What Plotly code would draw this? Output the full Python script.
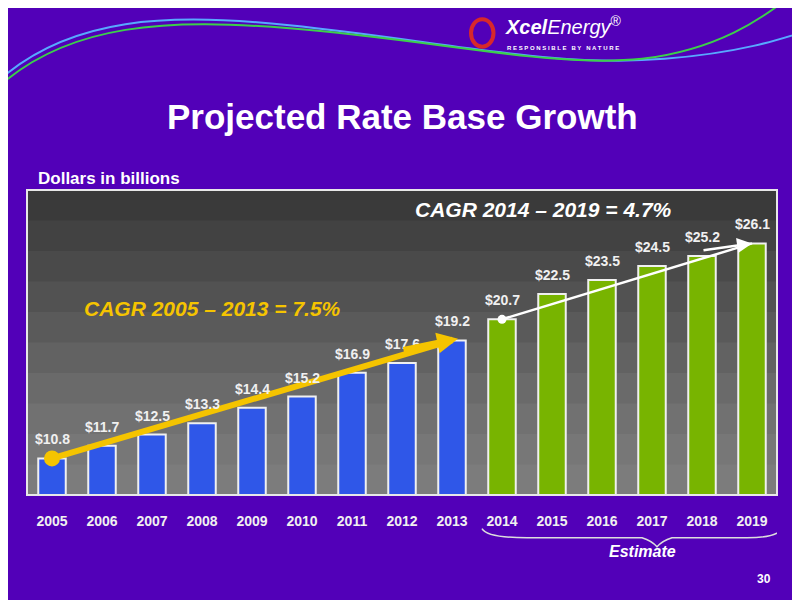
import plotly.graph_objects as go

years = list(range(2005, 2020))
rate_base = [10.8, 11.7, 12.5, 13.3, 14.4, 15.2, 16.9, 17.6, 19.2,
             20.7, 22.5, 23.5, 24.5, 25.2, 26.1]
labels = ["$%.1f" % v for v in rate_base]
hist_years = years[:9]
est_years = years[9:]

fig = go.Figure()

# plot area gradient: stacked rects, dark on top, lighter at bottom (no seams)
grays = ["#7c7c7c", "#777777", "#717171", "#6a6a6a", "#626262", "#5a5a5a",
         "#525252", "#4a4a4a", "#424242", "#3a3a3a"]
shapes = []
n = len(grays)
for i, g in enumerate(grays):
    shapes.append(dict(type="rect", xref="paper", yref="paper", layer="below",
                       x0=0, x1=1, y0=i / n, y1=1,
                       fillcolor=g, line_width=0))
shapes.append(dict(type="rect", xref="paper", yref="paper", x0=0, x1=1, y0=0, y1=1,
                   line=dict(color="#e8e8e8", width=2), layer="above"))
# decorative swooshes at top
shapes.append(dict(type="path", xref="paper", yref="paper", layer="below",
                   path="M -0.05,1.33 C 0.05,1.58 0.20,1.58 0.35,1.54 C 0.55,1.49 0.7,1.40 0.85,1.43 "
                        "C 0.95,1.45 1.0,1.49 1.05,1.53",
                   line=dict(color="#58a8ff", width=2)))
shapes.append(dict(type="path", xref="paper", yref="paper", layer="below",
                   path="M -0.05,1.31 C 0.05,1.56 0.2,1.56 0.35,1.53 C 0.55,1.49 0.7,1.40 0.82,1.43 "
                        "C 0.92,1.46 0.98,1.56 1.02,1.64",
                   line=dict(color="#3ccf4a", width=2)))
# logo mark
shapes.append(dict(type="circle", xref="paper", yref="paper", x0=0.592, x1=0.622, y0=1.47, y1=1.56,
                   line=dict(color="#d8282a", width=4)))
# estimate bracket
shapes.append(dict(type="path", xref="x", yref="paper",
                   path="M 2013.6,-0.11 Q 2013.7,-0.14 2014.5,-0.14 L 2016.8,-0.14 Q 2017,-0.15 2017.1,-0.17 "
                        "Q 2017.2,-0.15 2017.4,-0.14 L 2018.9,-0.14 Q 2019.5,-0.14 2019.6,-0.11",
                   line=dict(color="#dddddd", width=1.5)))

fig.add_trace(go.Bar(x=hist_years, y=rate_base[:9], width=0.55,
                     marker=dict(color="#2f57e8", line=dict(color="#f0f0f0", width=2)),
                     hoverinfo="skip"))
fig.add_trace(go.Bar(x=est_years, y=rate_base[9:], width=0.55,
                     marker=dict(color="#78b400", line=dict(color="#f0f0f0", width=2)),
                     hoverinfo="skip"))
fig.add_trace(go.Scatter(x=[years[0], years[8]], y=[rate_base[0], rate_base[8]],
                         mode="lines", line=dict(color="#f5c400", width=6), hoverinfo="skip"))
fig.add_trace(go.Scatter(x=[years[0]], y=[rate_base[0]], mode="markers",
                         marker=dict(color="#f5c400", size=16), hoverinfo="skip"))
fig.add_trace(go.Scatter(x=[years[9], years[14]], y=[rate_base[9], rate_base[14]],
                         mode="lines", line=dict(color="white", width=2.5), hoverinfo="skip"))
fig.add_trace(go.Scatter(x=[years[9]], y=[rate_base[9]], mode="markers",
                         marker=dict(color="white", size=9), hoverinfo="skip"))

white = "#f0f0f0"
annotations = []
for yr, v, lab in zip(years, rate_base, labels):
    annotations.append(dict(x=yr, y=v, xref="x", yref="y", yanchor="bottom", yshift=9,
                            text="<b>%s</b>" % lab, showarrow=False,
                            font=dict(size=14, color=white, family="Liberation Sans")))
annotations += [
    dict(x=years[8] + 0.12, y=rate_base[8] + 0.12, ax=years[7], ay=rate_base[7] + 0.9,
         xref="x", yref="y", axref="x", ayref="y", text="", showarrow=True,
         arrowhead=2, arrowsize=0.7, arrowwidth=6, arrowcolor="#f5c400"),
    dict(x=years[14], y=rate_base[14], ax=years[13], ay=rate_base[13] + 0.4,
         xref="x", yref="y", axref="x", ayref="y", text="", showarrow=True,
         arrowhead=2, arrowsize=1.2, arrowwidth=2.5, arrowcolor="white"),
    dict(x=0.5, y=1.24, xref="paper", yref="paper", yanchor="middle",
         text="<b>Projected Rate Base Growth</b>", showarrow=False,
         font=dict(size=35, color="white", family="Liberation Sans Narrow, Liberation Sans")),
    dict(x=0.012, y=1.0, xref="paper", yref="paper", xanchor="left", yanchor="bottom",
         text="<b>Dollars in billions</b>", showarrow=False,
         font=dict(size=17, color="white", family="Liberation Sans Narrow, Liberation Sans")),
    dict(x=0.515, y=0.935, xref="paper", yref="paper", xanchor="left", yanchor="middle",
         text="<b><i>CAGR 2014 – 2019 = 4.7%</i></b>", showarrow=False,
         font=dict(size=21, color="white", family="Liberation Sans")),
    dict(x=0.073, y=0.61, xref="paper", yref="paper", xanchor="left", yanchor="middle",
         text="<b><i>CAGR 2005 – 2013 = 7.5%</i></b>", showarrow=False,
         font=dict(size=21, color="#f5c400", family="Liberation Sans")),
    dict(x=2016.8, y=-0.15, xref="x", yref="paper", yanchor="top",
         text="<b><i>Estimate</i></b>", showarrow=False,
         font=dict(size=16, color="white", family="Liberation Sans")),
    dict(x=0.995, y=-0.245, xref="paper", yref="paper", xanchor="right", yanchor="top",
         text="<b>30</b>", showarrow=False,
         font=dict(size=12, color="white", family="Liberation Sans")),
    dict(x=0.635, y=1.54, xref="paper", yref="paper", xanchor="left", yanchor="middle",
         text="<b><i>Xcel</i></b><i>Energy</i><sup>®</sup>", showarrow=False,
         font=dict(size=20, color="white", family="Liberation Sans")),
    dict(x=0.637, y=1.465, xref="paper", yref="paper", xanchor="left", yanchor="middle",
         text="<b>R E S P O N S I B L E   B Y   N A T U R E</b>", showarrow=False,
         font=dict(size=6, color="white", family="Liberation Sans")),
]

fig.update_layout(
    width=800, height=600,
    margin=dict(l=19, r=31, t=182, b=113),
    paper_bgcolor="#5200b8",
    plot_bgcolor="rgba(0,0,0,0)",
    showlegend=False,
    barmode="overlay",
    shapes=shapes,
    annotations=annotations,
    xaxis=dict(range=[2004.5, 2019.5], tickmode="array", tickvals=years,
               ticktext=["<b>%d</b>" % y for y in years], showgrid=False, zeroline=False,
               ticks="", ticklabelstandoff=16,
               tickfont=dict(size=14, color=white, family="Liberation Sans")),
    yaxis=dict(range=[8.2, 29.9], visible=False, showgrid=False),
)

fig.write_html("out.html")
